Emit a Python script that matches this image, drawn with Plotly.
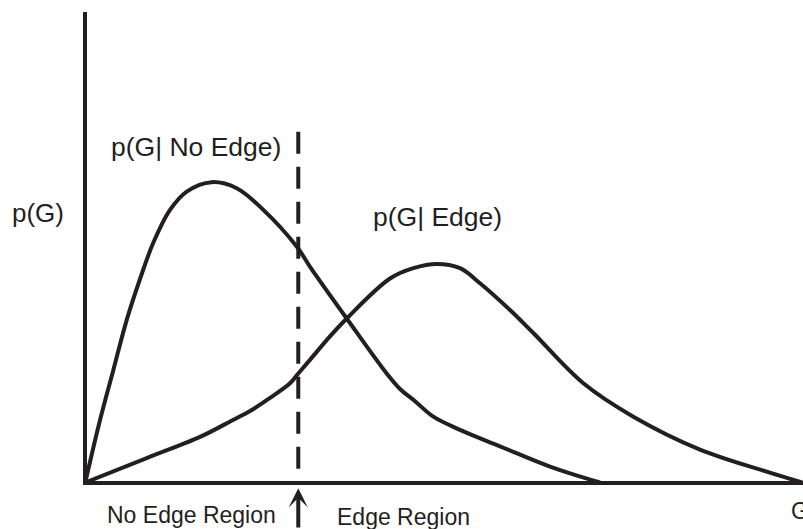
#!/usr/bin/env python3

"""
Sketch of the two class-conditional densities p(G|No Edge) and p(G|Edge)
with the decision threshold between the two regions.
"""

import plotly.graph_objs as go

# gradient magnitude G (arbitrary units) and density p(G)
g_no_edge = [0.0, 0.206, 0.391, 0.578, 0.763, 0.948, 1.181, 1.414, 1.762, 2.110,
             2.481, 2.946, 3.132, 3.643, 4.200, 4.386, 4.595, 4.850, 5.221, 5.779,
             6.475, 7.172]
p_no_edge = [0.0, 0.133, 0.239, 0.346, 0.433, 0.510, 0.580, 0.619, 0.639, 0.626,
             0.580, 0.502, 0.459, 0.349, 0.232, 0.199, 0.173, 0.140, 0.112, 0.077,
             0.034, 0.0]

g_edge = [0.0, 0.856, 1.599, 2.059, 2.296, 2.574, 2.853, 2.968, 3.131, 3.364, 3.643,
          4.246, 4.571, 4.897, 5.221, 5.500, 5.918, 6.243, 6.940, 7.636, 8.565,
          9.495, 9.987]
p_edge = [0.0, 0.052, 0.097, 0.133, 0.152, 0.180, 0.211, 0.232, 0.261, 0.303, 0.349,
          0.434, 0.456, 0.465, 0.456, 0.424, 0.367, 0.318, 0.211, 0.140, 0.070,
          0.023, 0.0]

threshold = 2.968
threshold_p = [0.746, 0.014]

INK = '#231f20'
FONT = 'Liberation Sans, Arial, sans-serif'


def main():
    fig = go.Figure()

    for g, p, name in [(g_no_edge, p_no_edge, 'p(G| No Edge)'),
                       (g_edge, p_edge, 'p(G| Edge)')]:
        fig.add_trace(go.Scatter(x=g, y=p, name=name, mode='lines',
                                 line=dict(color=INK, width=4, shape='spline', smoothing=1)))

    # threshold
    fig.add_trace(go.Scatter(x=[threshold, threshold], y=threshold_p, mode='lines',
                             line=dict(color=INK, width=4, dash='22px,13px')))

    labels = [
        dict(text='p(G| No Edge)', x=1.543, y=0.714, xref='x', yref='y', size=26.5),
        dict(text='p(G| Edge)', x=4.901, y=0.564, xref='x', yref='y', size=26.5),
        dict(text='p(G)', x=-0.0691, y=0.5714, xref='paper', yref='paper', size=26),
        dict(text='No Edge Region', x=0.1466, y=-0.0725, xref='paper', yref='paper', size=23),
        dict(text='Edge Region', x=0.4427, y=-0.0768, xref='paper', yref='paper', size=23),
        dict(text='G', x=0.9958, y=-0.064, xref='paper', yref='paper', size=23),
    ]
    annotations = []
    for lab in labels:
        annotations.append(dict(text=lab['text'], x=lab['x'], y=lab['y'],
                                xref=lab['xref'], yref=lab['yref'], showarrow=False,
                                xanchor='center', yanchor='middle',
                                font=dict(family=FONT, size=lab['size'], color=INK)))
    # arrow under the threshold
    annotations.append(dict(text='', x=threshold, y=-0.0156, xref='x', yref='paper',
                            showarrow=True, arrowhead=3, arrowsize=0.8, arrowwidth=4,
                            arrowcolor=INK, ax=0, ay=44, standoff=0))

    fig.update_layout(width=803, height=529,
                      margin=dict(l=87, r=0, t=12, b=48),
                      plot_bgcolor='white', paper_bgcolor='white',
                      showlegend=False,
                      annotations=annotations,
                      xaxis=dict(range=[0.0244, 10.0], showline=True, linewidth=3.5,
                                 linecolor=INK, showgrid=False, zeroline=False,
                                 showticklabels=False, ticks=''),
                      yaxis=dict(range=[0.0032, 1.001], showline=True, linewidth=3.5,
                                 linecolor=INK, showgrid=False, zeroline=False,
                                 showticklabels=False, ticks=''))

    # page body has a default 8px margin, drop it so the figure fills the window
    fig.write_html('out.html', config={'displayModeBar': False},
                   post_script="document.body.style.margin='0';"
                               "document.body.style.overflow='hidden';")


if __name__ == '__main__':
    main()
